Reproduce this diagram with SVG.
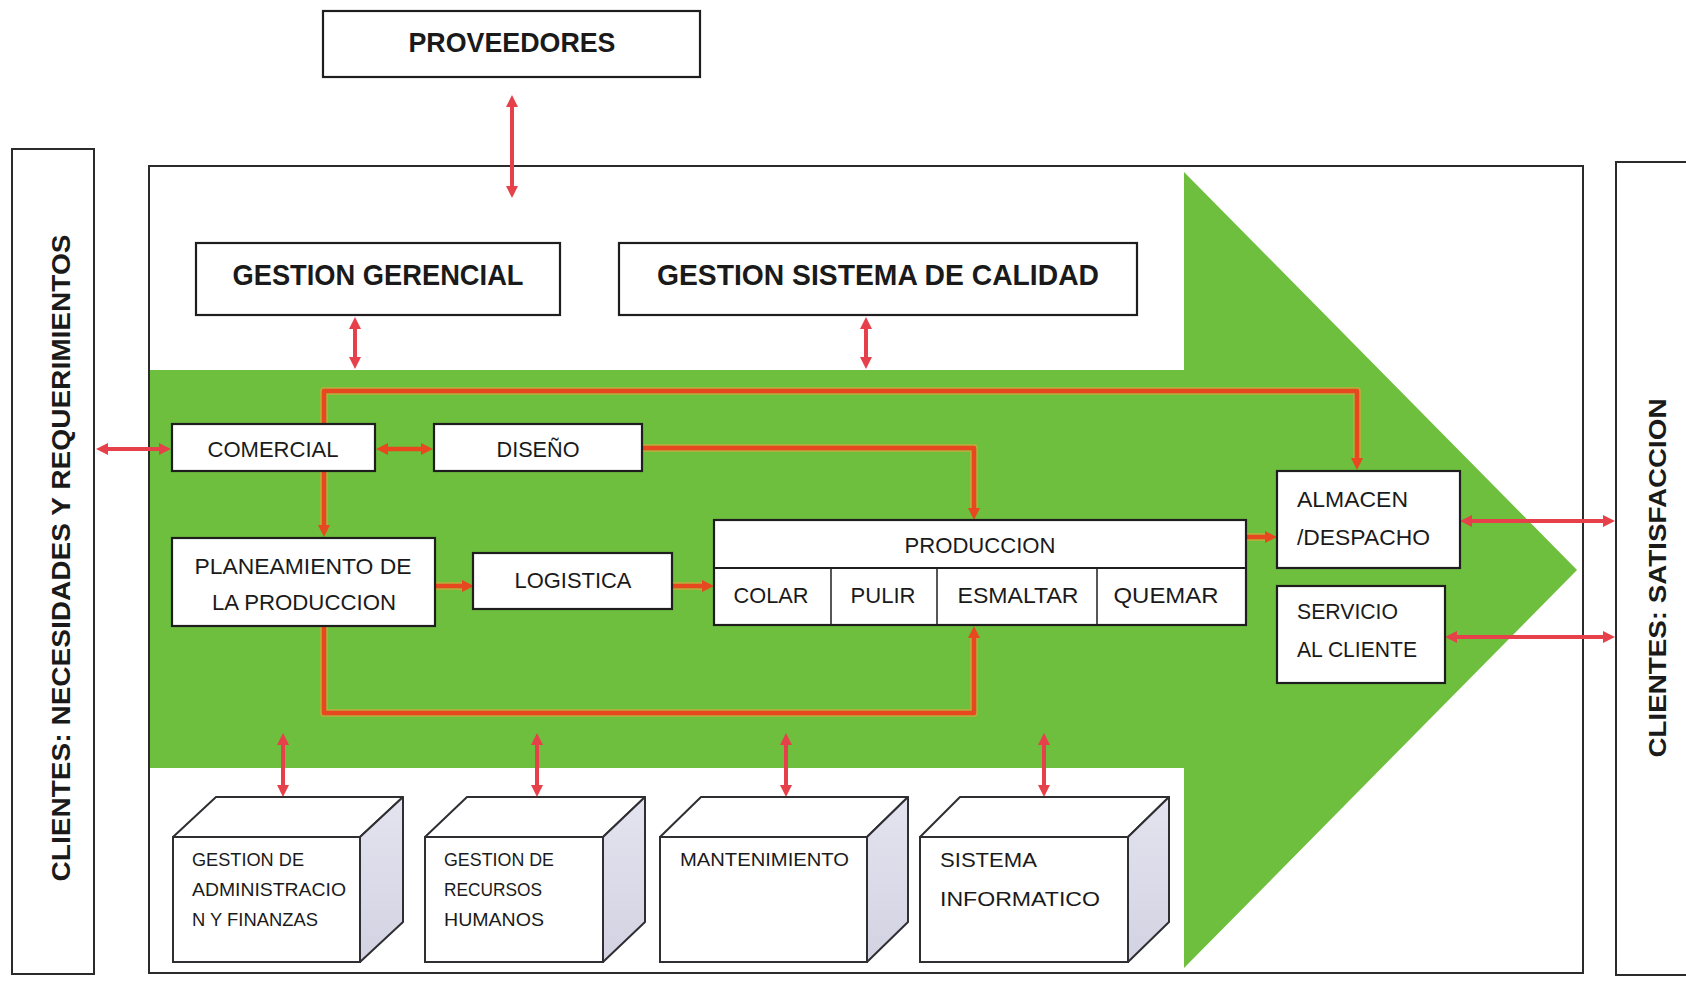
<svg xmlns="http://www.w3.org/2000/svg" width="1686" height="985" viewBox="0 0 1686 985">
  <defs>
    <style>
      text { font-family: "Liberation Sans", Arial, sans-serif; fill: #1a1a1a; }
      .bold { font-weight: bold; }
      .frame { fill: #ffffff; stroke: #2b2b2b; stroke-width: 2; }
      .box { fill: #ffffff; stroke: #1e1e1e; stroke-width: 2.2; }
      .cube-front { fill: #ffffff; stroke: #2e2e33; stroke-width: 2; }
      .cube-top { fill: #ffffff; stroke: #2e2e33; stroke-width: 2; stroke-linejoin: round; }
      .cube-side { fill: url(#sideShade); stroke: #2e2e33; stroke-width: 2; stroke-linejoin: round; }
      .halo { fill: none; stroke: #e9a23c; stroke-width: 8; stroke-opacity: 0.55; stroke-linejoin: round; }
      .link { fill: none; stroke: #e8481f; stroke-width: 4.5; stroke-linejoin: round; }
      .rel { fill: none; stroke: #e6404a; stroke-width: 4; }
      .lbl { font-size: 22px; }
      .small { font-size: 19px; }
    </style>
    <linearGradient id="sideShade" x1="0" y1="0" x2="0" y2="1">
      <stop offset="0" stop-color="#e4e4f0"/>
      <stop offset="1" stop-color="#d2d2e2"/>
    </linearGradient>
    <marker id="headLink" viewBox="0 0 12 12" refX="4" refY="6" markerWidth="12" markerHeight="12" markerUnits="userSpaceOnUse" orient="auto-start-reverse">
      <path d="M0,0 L12,6 L0,12 z" fill="#e8481f"/>
    </marker>
    <marker id="headRel" viewBox="0 0 12 12" refX="4" refY="6" markerWidth="12" markerHeight="12" markerUnits="userSpaceOnUse" orient="auto-start-reverse">
      <path d="M0,0 L12,6 L0,12 z" fill="#e6404a"/>
    </marker>
  </defs>

  <rect width="1686" height="985" fill="#ffffff"/>

  <!-- outer company frame and value-chain arrow -->
  <g id="company">
    <rect class="frame" x="149" y="166" width="1434" height="807"/>
    <polygon points="150,370 1184,370 1184,172 1577,570 1184,968 1184,768 150,768" fill="#6dbf3d"/>
  </g>

  <!-- side client panels -->
  <g id="clientes-necesidades">
    <rect class="frame" x="12" y="149" width="82" height="825"/>
    <text class="bold" transform="translate(70,558) rotate(-90)" x="0" y="0" font-size="25" text-anchor="middle" textLength="647" lengthAdjust="spacingAndGlyphs">CLIENTES: NECESIDADES Y REQUERIMIENTOS</text>
  </g>
  <g id="clientes-satisfaccion">
    <rect class="frame" x="1616" y="162" width="90" height="813"/>
    <text class="bold" transform="translate(1666,578) rotate(-90)" x="0" y="0" font-size="24" text-anchor="middle" textLength="359" lengthAdjust="spacingAndGlyphs">CLIENTES: SATISFACCION</text>
  </g>

  <!-- connectors -->
  <g id="connectors">
    <!-- feedback loops inside the process arrow -->
    <path class="halo" d="M324,529 L324,391 L1357,391 L1357,462"/>
    <path class="link" d="M324,529 L324,391 L1357,391 L1357,462" marker-start="url(#headLink)" marker-end="url(#headLink)"/>
    <path class="halo" d="M642,448 L974,448 L974,512"/>
    <path class="link" d="M642,448 L974,448 L974,512" marker-end="url(#headLink)"/>
    <path class="halo" d="M324,626 L324,713 L974,713 L974,634"/>
    <path class="link" d="M324,626 L324,713 L974,713 L974,634" marker-end="url(#headLink)"/>
    <path class="halo" d="M435,586 L466,586"/>
    <path class="link" d="M435,586 L466,586" marker-end="url(#headLink)"/>
    <path class="halo" d="M672,586 L706,586"/>
    <path class="link" d="M672,586 L706,586" marker-end="url(#headLink)"/>
    <path class="halo" d="M1246,537 L1269,537"/>
    <path class="link" d="M1246,537 L1269,537" marker-end="url(#headLink)"/>
    <path class="link" d="M384,449 L425,449" marker-start="url(#headLink)" marker-end="url(#headLink)"/>

    <!-- two-way relations -->
    <path class="rel" d="M512,103 L512,190" marker-start="url(#headRel)" marker-end="url(#headRel)"/>
    <path class="rel" d="M355,325 L355,361" marker-start="url(#headRel)" marker-end="url(#headRel)"/>
    <path class="rel" d="M866,325 L866,361" marker-start="url(#headRel)" marker-end="url(#headRel)"/>
    <path class="rel" d="M104,449 L163,449" marker-start="url(#headRel)" marker-end="url(#headRel)"/>
    <path class="rel" d="M1468,521 L1607,521" marker-start="url(#headRel)" marker-end="url(#headRel)"/>
    <path class="rel" d="M1453,637 L1607,637" marker-start="url(#headRel)" marker-end="url(#headRel)"/>
    <path class="rel" d="M283,741 L283,789" marker-start="url(#headRel)" marker-end="url(#headRel)"/>
    <path class="rel" d="M537,741 L537,789" marker-start="url(#headRel)" marker-end="url(#headRel)"/>
    <path class="rel" d="M786,741 L786,789" marker-start="url(#headRel)" marker-end="url(#headRel)"/>
    <path class="rel" d="M1044,741 L1044,789" marker-start="url(#headRel)" marker-end="url(#headRel)"/>
  </g>

  <!-- nodes -->
  <g id="proveedores">
    <rect class="box" x="323" y="11" width="377" height="66"/>
    <text class="bold" x="512" y="52" font-size="28" text-anchor="middle" textLength="207" lengthAdjust="spacingAndGlyphs">PROVEEDORES</text>
  </g>
  <g id="gestion-gerencial">
    <rect class="box" x="196" y="243" width="364" height="72"/>
    <text class="bold" x="378" y="285" font-size="30" text-anchor="middle" textLength="291" lengthAdjust="spacingAndGlyphs">GESTION GERENCIAL</text>
  </g>
  <g id="gestion-calidad">
    <rect class="box" x="619" y="243" width="518" height="72"/>
    <text class="bold" x="878" y="285" font-size="30" text-anchor="middle" textLength="442" lengthAdjust="spacingAndGlyphs">GESTION SISTEMA DE CALIDAD</text>
  </g>
  <g id="comercial">
    <rect class="box" x="172" y="424" width="203" height="47"/>
    <text class="lbl" x="273" y="457" text-anchor="middle" textLength="131" lengthAdjust="spacingAndGlyphs">COMERCIAL</text>
  </g>
  <g id="diseno">
    <rect class="box" x="434" y="424" width="208" height="47"/>
    <text class="lbl" x="538" y="457" text-anchor="middle" textLength="83" lengthAdjust="spacingAndGlyphs">DISEÑO</text>
  </g>
  <g id="planeamiento">
    <rect class="box" x="172" y="538" width="263" height="88"/>
    <text class="lbl" x="303" y="574" text-anchor="middle" textLength="217" lengthAdjust="spacingAndGlyphs">PLANEAMIENTO DE</text>
    <text class="lbl" x="304" y="610" text-anchor="middle" textLength="184" lengthAdjust="spacingAndGlyphs">LA PRODUCCION</text>
  </g>
  <g id="logistica">
    <rect class="box" x="473" y="553" width="199" height="56"/>
    <text class="lbl" x="573" y="588" text-anchor="middle" textLength="117" lengthAdjust="spacingAndGlyphs">LOGISTICA</text>
  </g>
  <g id="produccion">
    <rect class="box" x="714" y="520" width="532" height="105"/>
    <line x1="714" y1="568" x2="1246" y2="568" stroke="#1e1e1e" stroke-width="2"/>
    <line x1="831" y1="568" x2="831" y2="625" stroke="#1e1e1e" stroke-width="1.5"/>
    <line x1="937" y1="568" x2="937" y2="625" stroke="#1e1e1e" stroke-width="1.5"/>
    <line x1="1097" y1="568" x2="1097" y2="625" stroke="#1e1e1e" stroke-width="1.5"/>
    <text class="lbl" x="980" y="553" text-anchor="middle" textLength="151" lengthAdjust="spacingAndGlyphs">PRODUCCION</text>
    <text class="lbl" x="771" y="603" text-anchor="middle" textLength="75" lengthAdjust="spacingAndGlyphs">COLAR</text>
    <text class="lbl" x="883" y="603" text-anchor="middle" textLength="65" lengthAdjust="spacingAndGlyphs">PULIR</text>
    <text class="lbl" x="1018" y="603" text-anchor="middle" textLength="121" lengthAdjust="spacingAndGlyphs">ESMALTAR</text>
    <text class="lbl" x="1166" y="603" text-anchor="middle" textLength="105" lengthAdjust="spacingAndGlyphs">QUEMAR</text>
  </g>
  <g id="almacen">
    <rect class="box" x="1277" y="471" width="183" height="97"/>
    <text class="lbl" x="1297" y="507" textLength="111" lengthAdjust="spacingAndGlyphs">ALMACEN</text>
    <text class="lbl" x="1297" y="545" textLength="133" lengthAdjust="spacingAndGlyphs">/DESPACHO</text>
  </g>
  <g id="servicio">
    <rect class="box" x="1277" y="586" width="168" height="97"/>
    <text class="lbl" x="1297" y="619" textLength="101" lengthAdjust="spacingAndGlyphs">SERVICIO</text>
    <text class="lbl" x="1297" y="657" textLength="120" lengthAdjust="spacingAndGlyphs">AL CLIENTE</text>
  </g>

  <!-- support areas drawn as cubes -->
  <g id="administracion">
    <polygon class="cube-top" points="173,837 216,797 403,797 360,837"/>
    <polygon class="cube-side" points="360,837 403,797 403,922 360,962"/>
    <rect class="cube-front" x="173" y="837" width="187" height="125"/>
    <text class="small" x="192" y="866" textLength="112" lengthAdjust="spacingAndGlyphs">GESTION DE</text>
    <text class="small" x="192" y="896" textLength="154" lengthAdjust="spacingAndGlyphs">ADMINISTRACIO</text>
    <text class="small" x="192" y="926" textLength="126" lengthAdjust="spacingAndGlyphs">N Y FINANZAS</text>
  </g>
  <g id="recursos-humanos">
    <polygon class="cube-top" points="425,837 467,797 645,797 603,837"/>
    <polygon class="cube-side" points="603,837 645,797 645,922 603,962"/>
    <rect class="cube-front" x="425" y="837" width="178" height="125"/>
    <text class="small" x="444" y="866" textLength="110" lengthAdjust="spacingAndGlyphs">GESTION DE</text>
    <text class="small" x="444" y="896" textLength="98" lengthAdjust="spacingAndGlyphs">RECURSOS</text>
    <text class="small" x="444" y="926" textLength="100" lengthAdjust="spacingAndGlyphs">HUMANOS</text>
  </g>
  <g id="mantenimiento">
    <polygon class="cube-top" points="660,837 701,797 908,797 867,837"/>
    <polygon class="cube-side" points="867,837 908,797 908,922 867,962"/>
    <rect class="cube-front" x="660" y="837" width="207" height="125"/>
    <text class="small" x="680" y="866" textLength="169" lengthAdjust="spacingAndGlyphs">MANTENIMIENTO</text>
  </g>
  <g id="sistema-informatico">
    <polygon class="cube-top" points="920,837 960,797 1169,797 1128,837"/>
    <polygon class="cube-side" points="1128,837 1169,797 1169,922 1128,962"/>
    <rect class="cube-front" x="920" y="837" width="208" height="125"/>
    <text x="940" y="867" font-size="21" textLength="97" lengthAdjust="spacingAndGlyphs">SISTEMA</text>
    <text x="940" y="906" font-size="21" textLength="160" lengthAdjust="spacingAndGlyphs">INFORMATICO</text>
  </g>
</svg>
